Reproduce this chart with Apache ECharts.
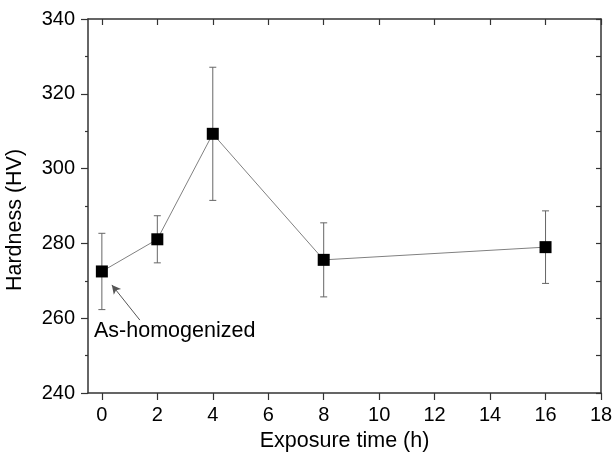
<!DOCTYPE html>
<html>
<head>
<meta charset="utf-8">
<script src="https://cdn.jsdelivr.net/npm/echarts@6/dist/echarts.min.js"></script>
<style>
  html, body { margin: 0; padding: 0; background: #fff; }
  #chart { width: 615px; height: 457px; }
</style>
</head>
<body>
<div id="chart"></div>
<script>
// data
const exposureTimes = [0, 2, 4, 8, 16]
const hardness = [272.5, 281.1, 309.3, 275.6, 279.0]
const hardnessErr = [10.2, 6.3, 17.8, 9.9, 9.7]
const xTicks = [0, 2, 4, 6, 8, 10, 12, 14, 16, 18]
const arrowFrom = [1.37, 259.5]
const arrowTo = [0.36, 268.9]

const font = 'Arial, "Liberation Sans", sans-serif'
const axisColor = '#333'

const chart = echarts.init(document.getElementById('chart'))

const points = exposureTimes.map((t, i) => [t, hardness[i]])
const errBars = exposureTimes.map((t, i) => [t, hardness[i] - hardnessErr[i], hardness[i] + hardnessErr[i]])

const option = {
  animation: false,
  grid: { left: 88, right: 14, top: 19, bottom: 64, containLabel: false, outerBoundsMode: 'none' },
  xAxis: [
    {
      type: 'value',
      min: -0.5,
      max: 18,
      name: 'Exposure time (h)',
      nameLocation: 'middle',
      nameGap: 37,
      nameTextStyle: { fontSize: 21.5, color: '#000', fontFamily: font },
      axisLine: { show: true, onZero: false, lineStyle: { color: axisColor, width: 1.5 } },
      axisTick: { show: true, inside: false, length: 7, customValues: xTicks, lineStyle: { color: axisColor, width: 1.2 } },
      axisLabel: { customValues: xTicks, margin: 12, fontSize: 20, color: '#000', fontFamily: font },
      splitLine: { show: false }
    },
    {
      type: 'value',
      position: 'top',
      min: -0.5,
      max: 18,
      axisLine: { show: true, onZero: false, lineStyle: { color: axisColor, width: 1.5 } },
      axisTick: { show: true, inside: true, length: 6, customValues: xTicks, lineStyle: { color: axisColor, width: 1.2 } },
      axisLabel: { show: false },
      splitLine: { show: false }
    }
  ],
  yAxis: [
    {
      type: 'value',
      min: 240,
      max: 340,
      interval: 20,
      name: 'Hardness (HV)',
      nameLocation: 'middle',
      nameRotate: 90,
      nameGap: 62,
      nameTextStyle: { fontSize: 21.5, color: '#000', fontFamily: font, padding: [0, 28, 0, 0] },
      axisLine: { show: true, onZero: false, lineStyle: { color: axisColor, width: 1.5 } },
      axisTick: { show: true, inside: false, length: 7, lineStyle: { color: axisColor, width: 1.2 } },
      minorTick: { show: true, splitNumber: 2, length: 3, lineStyle: { color: axisColor, width: 1.2 } },
      axisLabel: { margin: 13, fontSize: 20, color: '#000', fontFamily: font },
      splitLine: { show: false },
      minorSplitLine: { show: false }
    },
    {
      type: 'value',
      position: 'right',
      min: 240,
      max: 340,
      interval: 10,
      axisLine: { show: true, onZero: false, lineStyle: { color: axisColor, width: 1.5 } },
      axisTick: { show: true, inside: true, length: 5, lineStyle: { color: axisColor, width: 1.2 } },
      axisLabel: { show: false },
      splitLine: { show: false }
    }
  ],
  series: [
    {
      type: 'custom',
      xAxisIndex: 0,
      yAxisIndex: 0,
      z: 1,
      silent: true,
      data: errBars,
      renderItem: function (params, api) {
        const x = api.value(0)
        const lo = api.coord([x, api.value(1)])
        const hi = api.coord([x, api.value(2)])
        const cap = 3.5
        const style = { stroke: '#666', lineWidth: 1 }
        return {
          type: 'group',
          children: [
            { type: 'line', shape: { x1: lo[0], y1: lo[1], x2: hi[0], y2: hi[1] }, style: style },
            { type: 'line', shape: { x1: lo[0] - cap, y1: lo[1], x2: lo[0] + cap, y2: lo[1] }, style: style },
            { type: 'line', shape: { x1: hi[0] - cap, y1: hi[1], x2: hi[0] + cap, y2: hi[1] }, style: style }
          ]
        }
      }
    },
    {
      type: 'line',
      xAxisIndex: 0,
      yAxisIndex: 0,
      z: 3,
      data: points,
      symbol: 'rect',
      symbolSize: 12,
      itemStyle: { color: '#000' },
      lineStyle: { color: '#808080', width: 1 },
      markLine: {
        silent: true,
        symbol: ['none', 'arrow'],
        symbolSize: [7, 9],
        label: { show: false },
        lineStyle: { color: '#555', width: 1, type: 'solid' },
        data: [[{ coord: arrowFrom }, { coord: arrowTo }]]
      }
    }
  ],
  graphic: [
    {
      type: 'text',
      left: 94,
      top: 320,
      style: { text: 'As-homogenized', fontSize: 21.5, fill: '#000', fontFamily: font }
    }
  ]
}

chart.setOption(option)
</script>
</body>
</html>
